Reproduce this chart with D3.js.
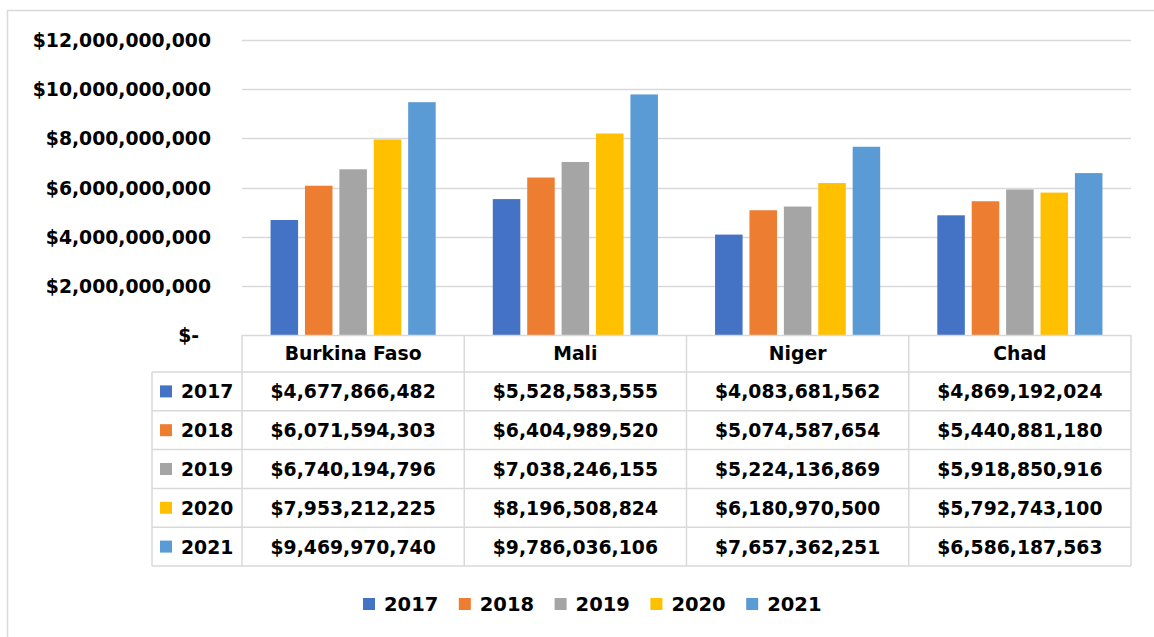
<!DOCTYPE html>
<html>
<head>
<meta charset="utf-8">
<script src="https://cdn.jsdelivr.net/npm/d3@7"></script>
<style>
  body { margin: 0; background: #fff; }
  text { font-family: "DejaVu Sans", sans-serif; font-weight: bold; fill: #000; }
</style>
</head>
<body>
<script>
// data
var countries = ['Burkina Faso', 'Mali', 'Niger', 'Chad'];
var years = ['2017', '2018', '2019', '2020', '2021'];
var v2017 = [4677866482, 5528583555, 4083681562, 4869192024];
var v2018 = [6071594303, 6404989520, 5074587654, 5440881180];
var v2019 = [6740194796, 7038246155, 5224136869, 5918850916];
var v2020 = [7953212225, 8196508824, 6180970500, 5792743100];
var v2021 = [9469970740, 9786036106, 7657362251, 6586187563];
var yTicks = [0, 2e9, 4e9, 6e9, 8e9, 10e9, 12e9];
var colors = ['#4472C4', '#ED7D31', '#A5A5A5', '#FFC000', '#5B9BD5'];

var series = [v2017, v2018, v2019, v2020, v2021];

var W = 1154, H = 637;
var fs = '18.8px';
var svg = d3.select('body').append('svg').attr('width', W).attr('height', H);

// chart frame
svg.append('rect').attr('x', 7.5).attr('y', 10.5).attr('width', W + 10).attr('height', H + 10)
  .style('fill', 'none').style('stroke', '#D9D9D9').style('stroke-width', 1.5);

var x0 = d3.scaleBand().domain(countries).range([242, 1131]);
var x1 = d3.scaleBand().domain(years).range([0, x0.bandwidth()]).paddingInner(0.2).paddingOuter(0.83);
var y = d3.scaleLinear().domain([0, 12e9]).range([335, 40]);

// gridlines
svg.append('g').selectAll('line').data(yTicks.slice(1)).join('line')
  .attr('x1', 242).attr('x2', 1131)
  .attr('y1', d => Math.round(y(d)) + 0.5).attr('y2', d => Math.round(y(d)) + 0.5)
  .style('stroke', '#D9D9D9').style('stroke-width', 1.5);

// y labels
var fmt = d3.format('$,');
svg.append('g').selectAll('text').data(yTicks).join('text')
  .attr('x', d => d === 0 ? 199 : 211)
  .attr('y', d => y(d) + 7)
  .attr('text-anchor', 'end')
  .style('font-size', fs)
  .text(d => d === 0 ? '$-' : fmt(d));

// bars
var groups = svg.append('g').selectAll('g').data(countries).join('g')
  .attr('transform', d => 'translate(' + x0(d) + ',0)');
groups.selectAll('rect').data((c, i) => years.map((yr, j) => ({ yr: yr, v: series[j][i], j: j }))).join('rect')
  .attr('x', d => x1(d.yr))
  .attr('width', x1.bandwidth())
  .attr('y', d => y(d.v))
  .attr('height', d => y(0) - y(d.v))
  .style('fill', d => colors[d.j]);

// data table
var rowTop = 372, rowH = 38.8, headTop = 335;
var grid = svg.append('g').style('stroke', '#D9D9D9').style('stroke-width', 1.5).style('fill', 'none');
grid.append('line').attr('x1', 242).attr('x2', 1131).attr('y1', headTop + 0.5).attr('y2', headTop + 0.5);
var tableBottom = rowTop + rowH * years.length;
grid.selectAll('.hl').data(d3.range(years.length + 1)).join('line')
  .attr('x1', 152).attr('x2', 1131)
  .attr('y1', i => rowTop + i * rowH).attr('y2', i => rowTop + i * rowH);
grid.selectAll('.vl').data(d3.range(countries.length + 1)).join('line')
  .attr('x1', i => i < countries.length ? x0(countries[i]) : 1131)
  .attr('x2', i => i < countries.length ? x0(countries[i]) : 1131)
  .attr('y1', headTop).attr('y2', tableBottom);
grid.append('line').attr('x1', 152).attr('x2', 152).attr('y1', rowTop).attr('y2', tableBottom);

svg.append('g').selectAll('text').data(countries).join('text')
  .attr('x', d => x0(d) + x0.bandwidth() / 2)
  .attr('y', headTop + rowH / 2 + 6)
  .attr('text-anchor', 'middle')
  .style('font-size', fs)
  .text(d => d);

var rows = svg.append('g').selectAll('g').data(years).join('g')
  .attr('transform', (d, i) => 'translate(0,' + (rowTop + i * rowH) + ')');
rows.append('rect').attr('x', 160).attr('y', rowH / 2 - 6).attr('width', 12).attr('height', 12)
  .style('fill', (d, i) => colors[i]);
rows.append('text').attr('x', 181).attr('y', rowH / 2 + 7).style('font-size', fs).text(d => d);
rows.selectAll('.val').data((d, i) => series[i].map((v, k) => ({ v: v, c: countries[k] }))).join('text')
  .attr('x', d => x0(d.c) + x0.bandwidth() / 2)
  .attr('y', rowH / 2 + 7)
  .attr('text-anchor', 'middle')
  .style('font-size', fs)
  .text(d => fmt(d.v));

// legend
var legend = svg.append('g').selectAll('g').data(years).join('g')
  .attr('transform', (d, i) => 'translate(' + (363 + i * 95.8) + ',598)');
legend.append('rect').attr('width', 12).attr('height', 12).style('fill', (d, i) => colors[i]);
legend.append('text').attr('x', 21).attr('y', 13).style('font-size', '19.5px').text(d => d);
</script>
</body>
</html>
